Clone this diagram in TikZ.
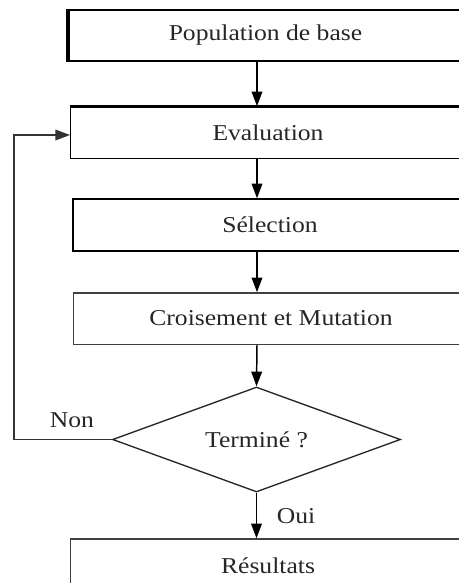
\documentclass[tikz,border=0pt]{standalone}
\usepackage{fontspec}
\setmainfont[FakeStretch=1.13]{Liberation Serif}
\usetikzlibrary{shapes.geometric,arrows.meta}
\begin{document}
\begin{tikzpicture}[x=0.75pt,y=-0.75pt,
  txt/.style={font=\fontsize{17}{19}\selectfont, text=black!85},
  boxbase/.style={txt, rectangle, draw=black, inner sep=0pt, minimum width=296pt, minimum height=38.5pt},
  flow/.style={line width=1.1pt, -{Triangle[length=11pt,width=8pt]}},
  loopline/.style={line width=1pt, black!80, -{Triangle[length=11pt,width=8pt]}}]
\useasboundingbox (0,0) rectangle (459,583);
\clip (0,0) rectangle (459,583);
% boxes
\node[boxbase, line width=1.5pt] (pop) at (265.5,35.5) {Population de base};
\node[boxbase, line width=1pt] (eval) at (268,132.5) {Evaluation};
\node[boxbase, line width=1.6pt] (sel) at (270,225) {Sélection};
\node[boxbase, line width=1pt, draw=black!75] (cross) at (271,318.5) {Croisement et Mutation};
\node[diamond, txt, draw=black!85, line width=1pt, inner sep=0pt, aspect=2.74,
      minimum width=216pt, minimum height=78.75pt] (term) at (256.5,439.5) {Terminé ?};
\node[boxbase, line width=1.1pt, draw=black!75, minimum height=40.5pt] (res) at (268,566) {Résultats};
% thicker edges
\draw[line width=3pt] ([xshift=0.75pt]pop.north west) -- ([xshift=0.75pt]pop.south west);
\draw[line width=1.6pt] (eval.north west) -- (eval.north east);
% arrows
\coordinate (col) at (257,0);
\draw[flow] (pop.south -| col) -- (eval.north -| col);
\draw[flow] (eval.south -| col) -- (sel.north -| col);
\draw[flow] (sel.south -| col) -- (cross.north -| col);
\draw[flow] (cross.south -| col) -- (term.north);
\draw[flow] (term.south) -- (res.north -| term.south);
% loop back
\coordinate (lp) at (14,135);
\draw[loopline] (term.west) -| (lp) -- (lp -| eval.west);
% labels
\node[txt] (non) at (72,420) {Non};
\node[txt] (oui) at (296,516) {Oui};
\end{tikzpicture}
\end{document}
